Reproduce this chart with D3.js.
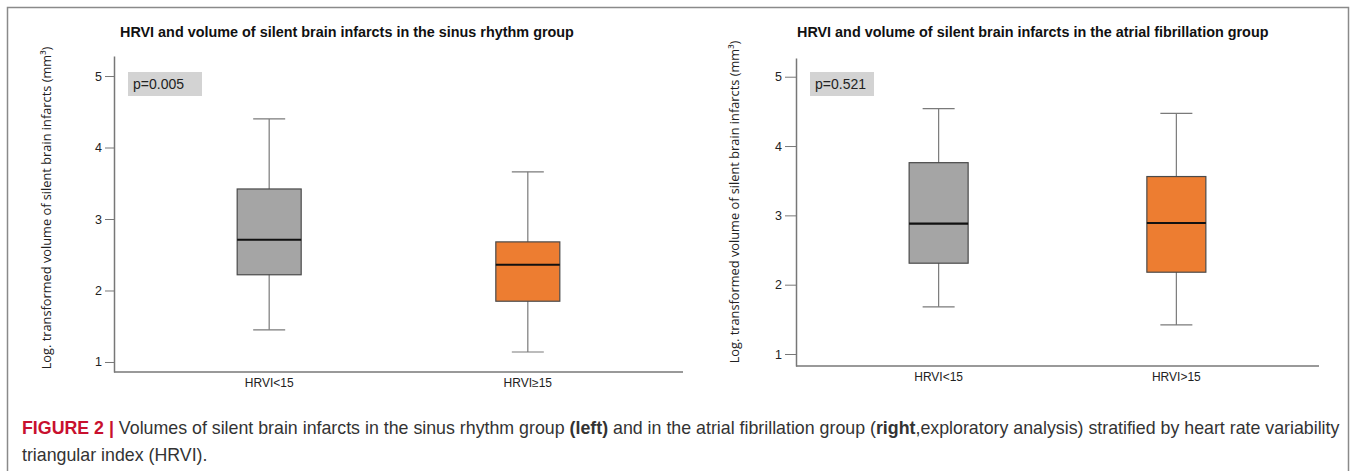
<!DOCTYPE html>
<html lang="en">
<head>
<meta charset="utf-8">
<title>HRVI and silent brain infarcts</title>
<style>
  body { margin: 0; background: #fff; }
  svg { display: block; }
</style>
</head>
<body>
<script src="https://d3js.org/d3.v7.min.js"></script>
<svg width="1357" height="471"></svg>
<script>
// sinus rhythm group (left)
var srGroups = ["HRVI<15", "HRVI\u226515"];
var srLow    = [1.45, 1.14];
var srQ1     = [2.22, 1.85];
var srMedian = [2.71, 2.36];
var srQ3     = [3.42, 2.68];
var srHigh   = [4.40, 3.66];

// atrial fibrillation group (right)
var afGroups = ["HRVI<15", "HRVI>15"];
var afLow    = [1.68, 1.42];
var afQ1     = [2.31, 2.18];
var afMedian = [2.88, 2.89];
var afQ3     = [3.76, 3.56];
var afHigh   = [4.54, 4.47];

var yTicks = [1, 2, 3, 4, 5];
var boxColors = ["#a5a5a5", "#ed7d31"];

var svg = d3.select("svg");

// outer frame
svg.append("rect")
   .attr("x", 7.5).attr("y", 7.5)
   .attr("width", 1341).attr("height", 480)
   .attr("fill", "none").attr("stroke", "#8a8a8a").attr("stroke-width", 1.5);

function drawPanel(opt) {
  var g = svg.append("g");

  var y = d3.scaleLinear().domain(opt.yDomain).range([opt.bottom, opt.top]);
  var x = d3.scalePoint().domain(opt.groups).range([opt.left, opt.right]).padding(0.6);

  // title
  g.append("text")
   .attr("x", opt.titleX).attr("y", 37)
   .attr("font-family", "Liberation Sans, Arial, sans-serif")
   .attr("font-weight", "bold").attr("font-size", 14.4)
   .attr("fill", "#111")
   .text(opt.title);

  // y axis
  var yAxis = g.append("g")
   .attr("transform", "translate(" + opt.left + ",0)")
   .call(d3.axisLeft(y).tickValues(yTicks).tickFormat(d3.format("d"))
           .tickSize(opt.tick).tickSizeOuter(0).tickPadding(3));
  yAxis.select(".domain").attr("stroke", "#777").attr("stroke-width", 1.5);
  yAxis.selectAll(".tick line").attr("stroke", "#777");
  yAxis.selectAll(".tick text")
   .attr("font-family", "Liberation Sans, Arial, sans-serif")
   .attr("font-size", 12.5).attr("fill", "#222");

  // x axis line
  g.append("line")
   .attr("x1", opt.left).attr("x2", opt.right)
   .attr("y1", opt.bottom).attr("y2", opt.bottom)
   .attr("stroke", "#777").attr("stroke-width", 1.5);

  // x labels
  g.selectAll(".xlab").data(opt.groups).enter().append("text")
   .attr("x", function(d) { return x(d); })
   .attr("y", opt.bottom + 15)
   .attr("text-anchor", "middle")
   .attr("font-family", "Liberation Sans, Arial, sans-serif")
   .attr("font-size", 12).attr("fill", "#222")
   .text(function(d) { return d; });

  // y label
  g.append("text")
   .attr("transform", "translate(" + opt.ylabX + "," + opt.ylabY + ") rotate(-90)")
   .attr("text-anchor", "middle")
   .attr("font-family", "Open Sans, sans-serif")
   .attr("font-size", 12.8).attr("fill", "#222")
   .text("Log. transformed volume of silent brain infarcts (mm\u00b3)");

  // p value box
  g.append("rect")
   .attr("x", opt.left + 14).attr("y", 72)
   .attr("width", opt.pw).attr("height", 24)
   .attr("fill", "#d3d3d3");
  g.append("text")
   .attr("x", opt.left + 19).attr("y", 89)
   .attr("font-family", "Liberation Sans, Arial, sans-serif")
   .attr("font-size", 14).attr("fill", "#222")
   .text(opt.p);

  var rows = opt.groups.map(function(d, i) {
    return { name: d, low: opt.low[i], q1: opt.q1[i], med: opt.median[i], q3: opt.q3[i], high: opt.high[i], color: boxColors[i] };
  });

  var boxes = g.selectAll(".box").data(rows).enter().append("g");

  // whisker stems
  boxes.append("line")
   .attr("x1", function(d) { return x(d.name); }).attr("x2", function(d) { return x(d.name); })
   .attr("y1", function(d) { return y(d.low); }).attr("y2", function(d) { return y(d.high); })
   .attr("stroke", "#7a7a7a").attr("stroke-width", 1.2);
  // caps
  ["low", "high"].forEach(function(k) {
    boxes.append("line")
     .attr("x1", function(d) { return x(d.name) - 16; }).attr("x2", function(d) { return x(d.name) + 16; })
     .attr("y1", function(d) { return y(d[k]); }).attr("y2", function(d) { return y(d[k]); })
     .attr("stroke", "#7a7a7a").attr("stroke-width", 1.2);
  });
  // box
  boxes.append("rect")
   .attr("x", function(d) { return x(d.name) - opt.bw / 2; })
   .attr("width", opt.bw)
   .attr("y", function(d) { return y(d.q3); })
   .attr("height", function(d) { return y(d.q1) - y(d.q3); })
   .attr("fill", function(d) { return d.color; })
   .attr("stroke", "#4a4a4a").attr("stroke-width", 1.2);
  // median
  boxes.append("line")
   .attr("x1", function(d) { return x(d.name) - opt.bw / 2; }).attr("x2", function(d) { return x(d.name) + opt.bw / 2; })
   .attr("y1", function(d) { return y(d.med); }).attr("y2", function(d) { return y(d.med); })
   .attr("stroke", "#111").attr("stroke-width", 2.2);
}

drawPanel({
  title: "HRVI and volume of silent brain infarcts in the sinus rhythm group",
  titleX: 120, groups: srGroups, low: srLow, q1: srQ1, median: srMedian, q3: srQ3, high: srHigh,
  left: 114, right: 683, top: 56, bottom: 372, yDomain: [0.86, 5.28],
  tick: 9, ylabX: 51, ylabY: 208, p: "p=0.005", pw: 74, bw: 64
});

drawPanel({
  title: "HRVI and volume of silent brain infarcts in the atrial fibrillation group",
  titleX: 797, groups: afGroups, low: afLow, q1: afQ1, median: afMedian, q3: afQ3, high: afHigh,
  left: 796, right: 1319, top: 58, bottom: 366, yDomain: [0.827, 5.27],
  tick: 11, ylabX: 739, ylabY: 202, p: "p=0.521", pw: 64, bw: 59
});

// caption
var cap = svg.append("text")
   .attr("x", 22).attr("y", 434)
   .attr("font-family", "Liberation Sans, Arial, sans-serif")
   .attr("font-size", 17.8).attr("fill", "#333");
cap.append("tspan").attr("font-weight", "bold").attr("fill", "#c8102e").text("FIGURE 2 | ");
cap.append("tspan").text("Volumes of silent brain infarcts in the sinus rhythm group ");
cap.append("tspan").attr("font-weight", "bold").text("(left)");
cap.append("tspan").text(" and in the atrial fibrillation group (");
cap.append("tspan").attr("font-weight", "bold").text("right");
cap.append("tspan").text(",exploratory analysis) stratified by heart rate variability");

svg.append("text")
   .attr("x", 22).attr("y", 461)
   .attr("font-family", "Liberation Sans, Arial, sans-serif")
   .attr("font-size", 17.8).attr("fill", "#333")
   .text("triangular index (HRVI).");
</script>
</body>
</html>
